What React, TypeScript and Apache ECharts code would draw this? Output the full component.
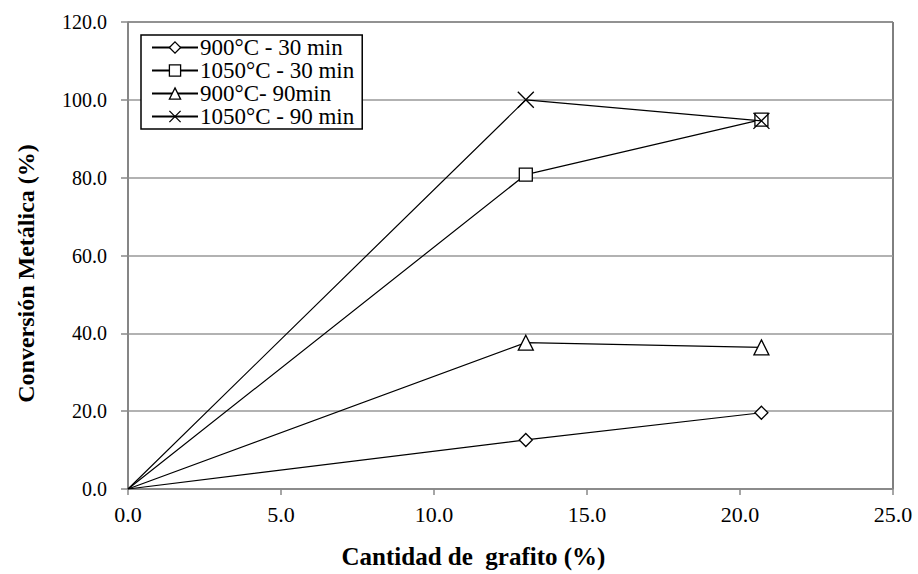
import React, { useEffect, useRef } from "react";
import * as echarts from "echarts";

const xValues = [0, 13.0, 20.7];
const seriesNames = ["900°C - 30 min", "1050°C - 30 min", "900°C- 90min", "1050°C - 90 min"];
const s900_30 = [0, 12.6, 19.6];
const s1050_30 = [0, 80.8, 94.9];
const s900_90 = [0, 37.6, 36.4];
const s1050_90 = [0, 100.0, 94.6];
const symbols = ["diamond", "rect", "triangle", "path://M0,0L10,10M10,0L0,10"];

export default function App() {
  const ref = useRef<HTMLDivElement>(null);
  useEffect(() => {
    if (!ref.current) return;
    const chart = echarts.init(ref.current, null, { renderer: "svg" });
    const data = [s900_30, s1050_30, s900_90, s1050_90];
    const font = "Liberation Serif";
    chart.setOption({
      animation: false,
      backgroundColor: "#fff",
      textStyle: { fontFamily: font },
      grid: {
        left: 128,
        right: 25,
        top: 22,
        bottom: 84,
        show: true,
        borderColor: "#000",
        borderWidth: 1,
        backgroundColor: "transparent",
      },
      legend: {
        left: 141,
        top: 35,
        orient: "vertical",
        backgroundColor: "#fff",
        borderColor: "#000",
        borderWidth: 1.5,
        padding: [1, 8, 1, 10],
        itemGap: 0,
        itemWidth: 46,
        itemHeight: 14,
        itemStyle: { borderWidth: 1.3 },
        textStyle: { fontFamily: font, fontSize: 23, lineHeight: 23, color: "#000", padding: [0, 0, 0, -3] },
        data: seriesNames,
      },
      xAxis: {
        type: "value",
        min: 0,
        max: 25,
        interval: 5,
        name: "Cantidad de  grafito (%)",
        nameLocation: "middle",
        nameGap: 55,
        nameTextStyle: {
          fontFamily: font,
          fontSize: 25,
          fontWeight: "bold",
          color: "#000",
          padding: [0, 74, 0, 0],
        },
        axisLine: { show: true, lineStyle: { color: "#888", width: 1.5 } },
        axisTick: { show: true, length: 6, lineStyle: { color: "#888", width: 1.5 } },
        axisLabel: {
          color: "#000",
          fontSize: 22,
          fontFamily: font,
          margin: 14,
          formatter: (v: number) => v.toFixed(1),
        },
        splitLine: { show: false },
      },
      yAxis: {
        type: "value",
        min: 0,
        max: 120,
        interval: 20,
        name: "Conversión Metálica (%)",
        nameLocation: "middle",
        nameGap: 90,
        nameTextStyle: {
          fontFamily: font,
          fontSize: 24,
          fontWeight: "bold",
          color: "#000",
          padding: [0, 36, 0, 0],
        },
        axisLine: { show: true, lineStyle: { color: "#888", width: 1.5 } },
        axisTick: { show: true, length: 7, lineStyle: { color: "#888", width: 1.5 } },
        axisLabel: {
          color: "#000",
          fontSize: 20,
          fontFamily: font,
          margin: 21,
          formatter: (v: number) => v.toFixed(1),
        },
        splitLine: { show: true, lineStyle: { color: "#999", width: 1.5 } },
      },
      series: seriesNames.map((name, i) => ({
        name,
        type: "line",
        data: xValues.map((x, j) =>
          j === 0 ? { value: [x, data[i][j]], symbol: "none" } : { value: [x, data[i][j]] }
        ),
        symbol: symbols[i],
        symbolSize: i === 3 ? 16 : i === 2 ? 15 : 13,
        showAllSymbol: true,
        lineStyle: { color: "#000", width: 1.2 },
        itemStyle: { color: i === 3 ? "none" : "#fff", borderColor: "#000", borderWidth: 1.3 },
        emphasis: { disabled: true },
        z: 2 + i,
      })),
    });
    return () => chart.dispose();
  }, []);
  return <div ref={ref} style={{ width: 918, height: 574, position: "absolute", left: 0, top: 0 }} />;
}
